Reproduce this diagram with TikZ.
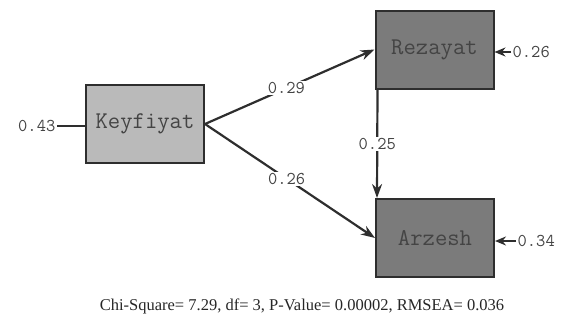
\documentclass[tikz,border=0pt]{standalone}
\usepackage{fontspec}
\setmainfont{Liberation Serif}
\usetikzlibrary{arrows.meta}
\definecolor{lightbox}{HTML}{BABABA}
\definecolor{darkbox}{HTML}{7B7B7B}
\definecolor{edgecol}{HTML}{2E2E2E}
\definecolor{txtcol}{HTML}{444444}
\tikzset{
  varbox/.style={draw=edgecol, line width=2pt, minimum width=118pt, minimum height=78pt, inner sep=0pt,
    font=\fontsize{24}{24}\ttfamily, text=txtcol},
  coef/.style={font=\fontsize{18}{18}\ttfamily, text=txtcol, fill=white, inner sep=1.5pt},
  path/.style={draw=edgecol, line width=2.2pt, -{Stealth[length=14pt,width=10pt]}},
  errarr/.style={draw=edgecol, line width=2.2pt, -{Stealth[length=11pt,width=9pt]}}
}
\begin{document}
\begin{tikzpicture}[x=1pt,y=-1pt]
\useasboundingbox (0,0) rectangle (570,327);
\node[varbox, fill=lightbox] (K) at (145,124) {Keyfiyat};
\node[varbox, fill=darkbox] (R) at (434.5,49.5) {Rezayat};
\node[varbox, fill=darkbox] (A) at (435,238) {Arzesh};
\node[coef, anchor=east] (eK) at (57,126) {0.43};
\node[coef, anchor=west] (eR) at (511,52) {0.26};
\node[coef, anchor=west] (eA) at (516,241) {0.34};
\draw[draw=edgecol, line width=2.2pt] (eK.east) -- (K.west |- eK.east);
\draw[errarr] (eR.west) -- (R.east |- eR.west);
\draw[errarr] (eA.west) -- (A.east |- eA.west);
\coordinate (Kr) at (K.east);
\draw[path] (Kr) -- node[coef, pos=0.48] (c1) {0.29} (R.west);
\draw[path] (Kr) -- node[coef, pos=0.48] (c2) {0.26} (A.west);
\coordinate (Rb) at ([xshift=3pt]R.south west);
\coordinate (At) at ([xshift=2pt]A.north west);
\draw[path] (Rb) -- node[coef, pos=0.5] (c3) {0.25} (At);
\node[font=\fontsize{16.5}{16.5}\selectfont, text=black!85] (fit) at (302,306) {Chi-Square= 7.29, df= 3, P-Value= 0.00002, RMSEA= 0.036};
\end{tikzpicture}
\end{document}
